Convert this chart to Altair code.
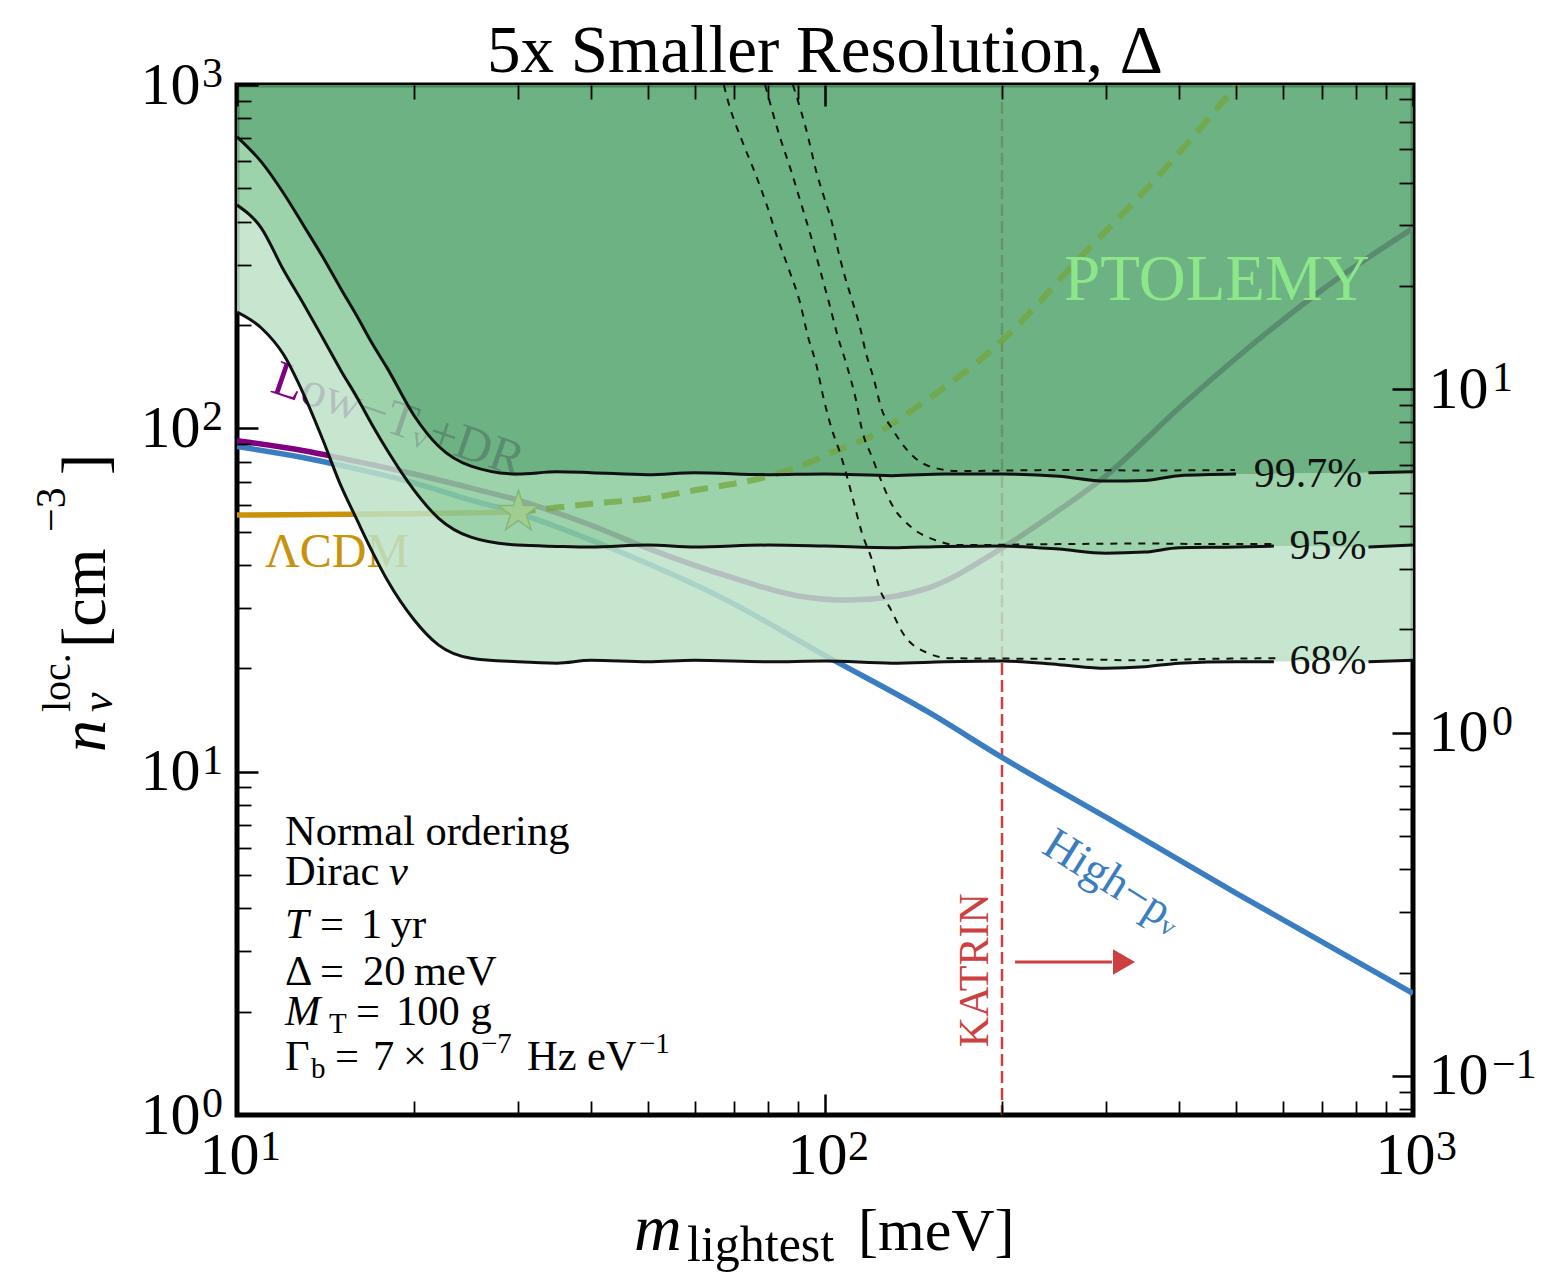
import altair as alt
import pandas as pd

SERIF = "Liberation Serif, DejaVu Serif, serif"
W, H = 1176, 1030

# ---------------- data ----------------
M_GRID = [10, 11, 12, 13, 14, 15, 16, 17, 18, 20, 22, 25, 30, 35, 40, 50, 60, 80,
          100, 130, 160, 200, 250, 300, 350, 400, 500, 580, 700, 840, 1000]
N_997 = [706, 597, 484, 388, 315, 256, 212, 176, 150, 109, 88.8, 77.6, 73.6, 74.7, 74.3,
         73.3, 74.3, 73.3, 73.6, 72.8, 73.6, 73.6, 72.5, 70.2, 70.5, 72.8, 73.6, 73.8,
         74.0, 74.3, 74.7]
N_95 = [447, 383, 289, 229, 183, 148, 123, 102, 86.5, 66.1, 54.8, 48.2, 45.7, 45.3, 45.1,
        45.7, 45.1, 45.7, 45.4, 44.9, 45.3, 45.4, 44.5, 43.3, 43.6, 44.9, 45.1, 45.4,
        45.3, 45.1, 45.7]
N_68 = [218, 196, 164, 125, 92.5, 68.4, 54.1, 43.6, 36.2, 27.7, 23.4, 21.4, 20.9, 20.7,
        21.1, 20.9, 21.1, 20.9, 21.0, 20.7, 20.9, 21.0, 20.5, 20.0, 20.2, 20.7, 20.9,
        20.9, 21.0, 20.9, 21.1]
N_TOP = 1000
GAP_997 = (500, 840)
GAP_95 = (580, 840)
GAP_68 = (580, 840)

DASH68_M = [67.3, 68.1, 72.5, 75.7, 79.4, 82.9, 86.9, 90.7, 93.6, 96.5, 99.6, 102.8, 106.1,
            109.4, 112.0, 115.6, 120.2, 123.6, 129.5, 135.7, 149.1, 163.8, 250, 350, 450, 587]
DASH68_N = [1000, 923, 678, 565, 453, 361, 289, 232, 184.5, 155, 120.9, 98.9, 84.7, 70.7,
            60.6, 49.5, 41.3, 34.5, 29.6, 25.3, 22.2, 21.4, 21.3, 21.1, 21.3, 21.4]
DASH95_M = [79.1, 83.8, 87.5, 91.0, 94.7, 98.1, 101.6, 105.2, 108.6, 112.9, 115.6, 120.2,
            124.5, 129.5, 140.1, 153.8, 169.0, 250, 350, 450, 587]
DASH95_N = [1000, 706, 565, 453, 361, 289, 232, 184.5, 155, 120.9, 98.9, 82.5, 70.7, 60.6,
            51.6, 47.3, 45.7, 46.0, 46.2, 46.0, 46.0]
DASH997_M = [88.2, 93.6, 96.5, 99.6, 102.8, 105.2, 107.7, 111.2, 114.7, 117.4, 121.2, 124.5,
             130.5, 137.9, 151.5, 169.0, 250, 350, 498]
DASH997_N = [1000, 706, 565, 472, 396, 331, 283, 236, 197, 165.7, 138.2, 115.3, 98.9, 86.5,
             77.2, 75.1, 75.6, 75.4, 75.6]

BLUE_M = [10, 13, 15, 20, 25, 30, 44, 68, 100, 150, 200, 300, 500, 1000]
BLUE_N = [88.5, 82.1, 78.0, 69.4, 61.8, 56.6, 44.2, 31.6, 21.8, 14.9, 11.0, 7.38, 4.43, 2.26]
PURPLE_M = [10, 13, 15, 20, 25, 30, 40, 50, 70, 90, 110, 130, 150, 200, 250, 300, 400, 500,
            700, 1000]
PURPLE_N = [92.0, 86.0, 81.9, 73.6, 67.0, 61.8, 52.2, 44.7, 36.6, 32.5, 31.6, 32.3, 34.3,
            44.8, 57.8, 72.6, 114.6, 160, 253, 383]
GOLD_M = [10, 20, 30]
GOLD_N = [55.9, 56.4, 57.0]
PT_M = [30, 35, 40, 50, 60, 80, 93.5, 102, 120, 149, 198, 269, 368, 494, 510]
PT_N = [57.0, 58.8, 60.3, 62.5, 66.0, 72.5, 79.2, 84.7, 95.0, 121, 177, 309, 540, 967, 1030]
STAR_M, STAR_N = [30.1], [57.0]
KATRIN_M = [200]
ARROW_M = [210.5]
ARROW_M2 = [307.6]
ARROW_HEAD_M = [322.5]
ARROW_N = [2.79]

X_MAJOR = [10, 100, 1000]
X_EXP = ["1", "2", "3"]
X_MINOR = [20, 30, 40, 50, 60, 70, 80, 90, 200, 300, 400, 500, 600, 700, 800, 900]
Y_MAJOR = [1, 10, 100, 1000]
Y_EXP = ["0", "1", "2", "3"]
Y_MINOR = [2, 3, 4, 5, 6, 7, 8, 9, 20, 30, 40, 50, 60, 70, 80, 90,
           200, 300, 400, 500, 600, 700, 800, 900]
RIGHT_FACTOR = 13.0
R_MAJOR = [0.1, 1, 10]
R_EXP = ["\u22121", "0", "1"]
R_MINOR = [0.08, 0.09, 0.2, 0.3, 0.4, 0.5, 0.6, 0.7, 0.8, 0.9,
           2, 3, 4, 5, 6, 7, 8, 9, 20, 30, 40, 50, 60, 70]

LIGHT, MID, DARK = "#bde2c8", "#8ccb9c", "#53a46d"
FILL_OPACITY = 0.85
RED = "#cc4040"
BLUE = "#3b7dc1"
PURPLE = "#800080"
GOLD = "#c8920a"
STAR_PATH = ("M0,-1L0.2245,-0.309L0.951,-0.309L0.363,0.118L0.588,0.809L0,0.382"
             "L-0.588,0.809L-0.363,0.118L-0.951,-0.309L-0.2245,-0.309Z")

# ---------------- scales ----------------
xs = alt.Scale(type="log", domain=[10, 1000], nice=False)
ys = alt.Scale(type="log", domain=[1, 1000], nice=False)
rs = alt.Scale(type="log", domain=[1 / RIGHT_FACTOR, 1000 / RIGHT_FACTOR], nice=False)


def X(f="m"):
    return alt.X(f"{f}:Q", scale=xs, axis=None)


def Y(f="n"):
    return alt.Y(f"{f}:Q", scale=ys, axis=None)


def line(ms, ns, color, width, dash=None, opacity=1.0):
    kw = dict(color=color, strokeWidth=width, clip=True, interpolate="monotone", opacity=opacity)
    if dash:
        kw["strokeDash"] = dash
    return alt.Chart(pd.DataFrame({"m": ms, "n": ns})).mark_line(**kw).encode(x=X(), y=Y())


def contour(ns, gap):
    a_m, a_n, b_m, b_n = [], [], [], []
    for m, n in zip(M_GRID, ns):
        if m <= gap[0]:
            a_m.append(m)
            a_n.append(n)
        elif m >= gap[1]:
            b_m.append(m)
            b_n.append(n)
    return [line(a_m, a_n, "#111111", 3), line(b_m, b_n, "#111111", 3)]


def text_at(txt, m, n, size, color, angle=0, align="center", baseline="middle", italic=False):
    df = pd.DataFrame({"m": [m], "n": [n], "t": [txt]})
    return alt.Chart(df).mark_text(font=SERIF, fontSize=size, color=color, angle=angle,
                                   align=align, baseline=baseline,
                                   fontStyle="italic" if italic else "normal").encode(
        x=X(), y=Y(), text="t:N")


def text_px(txt, x, y, size, color="black", angle=0, align="left", baseline="alphabetic",
            italic=False):
    df = pd.DataFrame({"t": [txt]})
    return alt.Chart(df).mark_text(font=SERIF, fontSize=size, color=color, angle=angle,
                                   align=align, baseline=baseline,
                                   fontStyle="italic" if italic else "normal").encode(
        x=alt.value(x), y=alt.value(y), text="t:N")


def exponents(ms, ns, texts, dx, dy):
    df = pd.DataFrame({"m": ms, "n": ns, "t": texts})
    return alt.Chart(df).mark_text(font=SERIF, fontSize=42, color="black", align="left",
                                   baseline="alphabetic", dx=dx, dy=dy).encode(
        x=X(), y=Y(), text="t:N")


band_df = pd.DataFrame({"m": M_GRID, "n68": N_68, "n95": N_95, "n997": N_997,
                        "top": [N_TOP] * len(M_GRID)})

katrin = alt.Chart(pd.DataFrame({"m": KATRIN_M})).mark_rule(
    color=RED, strokeWidth=2.5, strokeDash=[12, 5]).encode(x=X())
blue = line(BLUE_M, BLUE_N, BLUE, 5.5)
purple = line(PURPLE_M, PURPLE_N, PURPLE, 5.5)
gold = line(GOLD_M, GOLD_N, GOLD, 5.5)
lowT = text_at("Low\u2212T\u1d65+DR", 18.8, 105.7, 50, PURPLE, angle=19)
lcdm = text_at("\u039bCDM", 11.16, 39.4, 48, GOLD, align="left", baseline="alphabetic")


def band(lo, hi, color):
    return alt.Chart(band_df).mark_area(color=color, opacity=FILL_OPACITY, clip=True,
                                        interpolate="monotone").encode(
        x=X(), y=Y(lo), y2=alt.Y2(f"{hi}:Q"))


light = band("n68", "n95", LIGHT)
mid = band("n95", "n997", MID)
dark = band("n997", "top", DARK)

pt_line = line(PT_M, PT_N, "#74a63e", 6, dash=[18, 11], opacity=0.75)
d68 = line(DASH68_M, DASH68_N, "#111111", 2, dash=[7, 7])
d95 = line(DASH95_M, DASH95_N, "#111111", 2, dash=[7, 7])
d997 = line(DASH997_M, DASH997_N, "#111111", 2, dash=[7, 7])
contours = contour(N_68, GAP_68) + contour(N_95, GAP_95) + contour(N_997, GAP_997)

star = alt.Chart(pd.DataFrame({"m": STAR_M, "n": STAR_N})).mark_point(
    shape=STAR_PATH, size=1900, filled=True, fill="#a2cd90", stroke="#86b676",
    strokeWidth=1.5, opacity=1).encode(x=X(), y=Y())

lab997 = text_at("99.7%", 663, 73.6, 42, "#111111")
lab95 = text_at("95%", 717, 45.4, 42, "#111111")
lab68 = text_at("68%", 717, 21.0, 42, "#111111")
ptolemy = text_at("PTOLEMY", 464, 236.6, 65, "#8de68a", baseline="alphabetic")
high = text_at("High\u2212p\u1d65", 309, 4.80, 46, BLUE, angle=32)
katrin_txt = text_at("KATRIN", 180, 2.64, 42, RED, angle=270)

arrow_df = pd.DataFrame({"m": ARROW_M, "m2": ARROW_M2, "n": ARROW_N, "mh": ARROW_HEAD_M})
arrow = alt.Chart(arrow_df).mark_rule(color=RED, strokeWidth=3).encode(
    x=X(), x2=alt.X2("m2:Q"), y=Y())
arrow_head = alt.Chart(arrow_df).mark_point(shape="triangle-right", filled=True, size=650,
                                           color=RED, opacity=1).encode(x=X("mh"), y=Y())

# tick-label exponents (placed at the tick positions through the scales)
exp_bottom = exponents(X_MAJOR, [1] * 3, X_EXP, 23, 45)
exp_left = exponents([10] * 4, Y_MAJOR, Y_EXP, -35, 2)
exp_right = exponents([1000] * 3, [r * RIGHT_FACTOR for r in R_MAJOR], R_EXP, 79, 2)

# annotation block (pixel offsets from plot origin)
FS, FSS = 42.5, 29
ann = [
    text_px("Normal ordering", 48, 760, FS),
    text_px("Dirac", 48, 800, FS),
    text_px("\u03bd", 152, 800, FS, italic=True),
    text_px("T", 48, 853, FS, italic=True),
    text_px("=", 83, 853, FS),
    text_px("1\u2009yr", 124, 853, FS),
    text_px("\u0394", 48, 900, FS),
    text_px("=", 83, 900, FS),
    text_px("20\u2009meV", 126, 900, FS),
    text_px("M", 48, 940, FS, italic=True),
    text_px("T", 92, 948, FSS),
    text_px("=", 119, 940, FS),
    text_px("100 g", 159, 940, FS),
    text_px("\u0393", 48, 985, FS),
    text_px("b", 74, 993, FSS),
    text_px("=", 98, 985, FS),
    text_px("7", 136, 985, FS),
    text_px("\u00d7", 166, 985, FS),
    text_px("10", 200, 985, FS),
    text_px("\u22127", 244, 968, FSS),
    text_px("Hz", 290, 985, FS),
    text_px("eV", 350, 985, FS),
    text_px("\u22121", 402, 968, FSS),
]

title = text_px("5x Smaller Resolution, \u0394", W / 2, -13, 67, align="center")

xtitle = [
    text_px("m", 397, 1165, 66, italic=True),
    text_px("lightest", 450, 1176, 50),
    text_px("[meV]", 621, 1165, 60),
]
ytitle = [
    text_px("n", -132, 667, 64, angle=270, italic=True),
    text_px("\u03bd", -125, 627, 44, angle=270, italic=True),
    text_px("loc.", -167, 627, 40, angle=270),
    text_px("[cm", -132, 563, 64, angle=270),
    text_px("\u22123", -172, 447, 42, angle=270),
    text_px("]", -132, 390, 64, angle=270),
]

main = alt.layer(katrin, blue, purple, gold, lowT, lcdm, light, mid, dark,
                 pt_line, d68, d95, d997, *contours, star,
                 lab997, lab95, lab68, ptolemy, high, katrin_txt, arrow, arrow_head,
                 exp_bottom, exp_left, exp_right,
                 *ann, title, *xtitle, *ytitle)

AXDF = pd.DataFrame({"m": [10.0], "n": [1.0], "r": [0.1]})


def ax_common(**kw):
    base = dict(domain=False, grid=False, title=None, tickColor="black", zindex=2,
                labelFont=SERIF, labelColor="black", labelFlush=False, labelOverlap=False)
    base.update(kw)
    return alt.Axis(**base)


def xaxis_layer(values, size, width, orient, labels=False):
    kw = dict(orient=orient, values=values, tickSize=size, offset=-size, tickWidth=width,
              labels=labels)
    if labels:
        kw.update(labelExpr="'10'", labelFontSize=60, labelPadding=11, labelOffset=-8)
    return alt.Chart(AXDF).mark_point(opacity=0).encode(
        x=alt.X("m:Q", scale=xs, axis=ax_common(**kw)),
        y=alt.Y("n:Q", scale=ys, axis=None))


def yaxis_layer(values, size, width, orient, field, scale, labels=False, pad=12):
    kw = dict(orient=orient, values=values, tickSize=size, offset=-size, tickWidth=width,
              labels=labels)
    if labels:
        kw.update(labelExpr="'10'", labelFontSize=60, labelPadding=pad)
    return alt.Chart(AXDF).mark_point(opacity=0).encode(
        x=alt.X("m:Q", scale=xs, axis=None),
        y=alt.Y(f"{field}:Q", scale=scale, axis=ax_common(**kw)))


axes = [
    xaxis_layer(X_MAJOR, 21, 2.5, "bottom", labels=True),
    xaxis_layer(X_MINOR, 14, 1.8, "bottom"),
    xaxis_layer(X_MAJOR, 21, 2.5, "top"),
    xaxis_layer(X_MINOR, 14, 1.8, "top"),
    yaxis_layer(Y_MAJOR, 21, 2.5, "left", "n", ys, labels=True, pad=37),
    yaxis_layer(Y_MINOR, 14, 1.8, "left", "n", ys),
    yaxis_layer(R_MAJOR, 21, 2.5, "right", "r", rs, labels=True, pad=15),
    yaxis_layer(R_MINOR, 14, 1.8, "right", "r", rs),
]

chart = alt.layer(main, *axes).resolve_scale(x="independent", y="independent").properties(
    width=W, height=H,
    autosize=alt.AutoSizeParams(type="none"),
    padding={"left": 229, "top": 77, "right": 135, "bottom": 158},
    background="white",
).configure_view(stroke="black", strokeWidth=5)

chart.save("out.html", embed_options={"renderer": "svg", "actions": False})
